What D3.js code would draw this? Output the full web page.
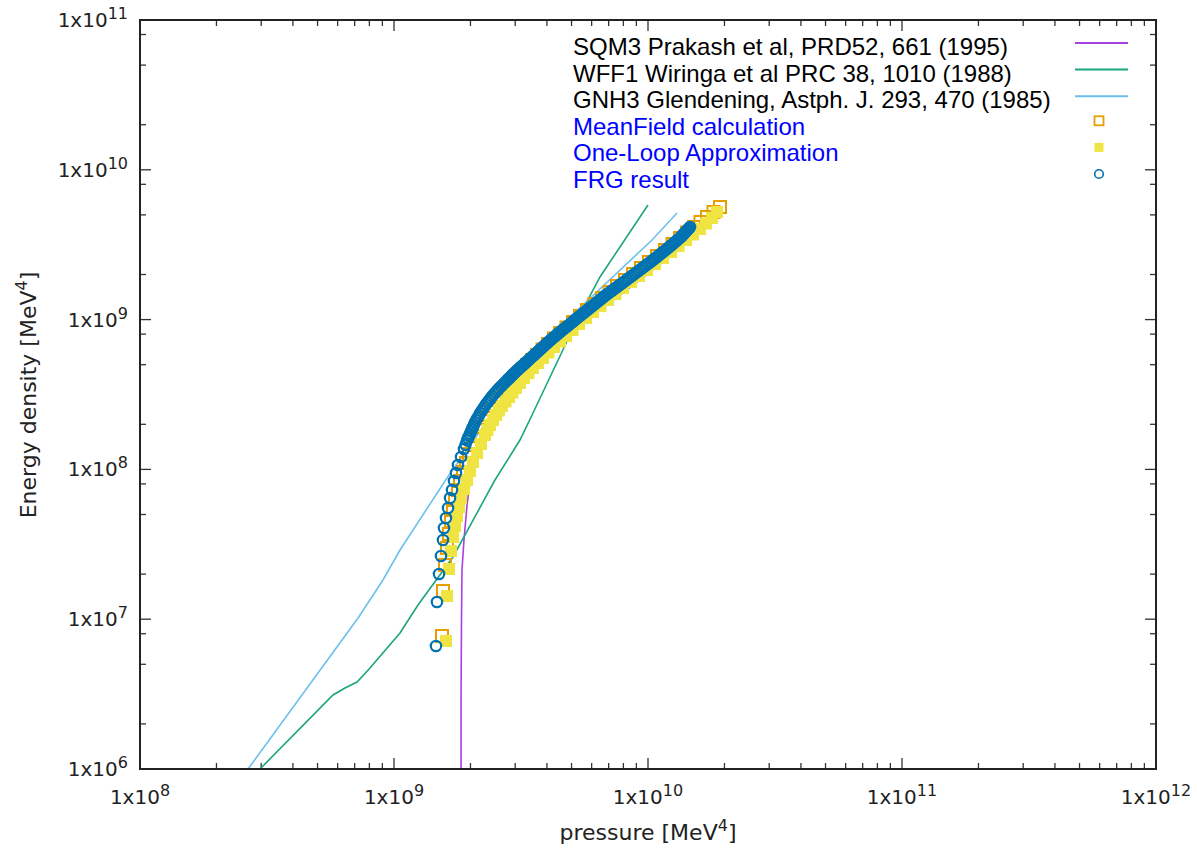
<!DOCTYPE html>
<meta charset="utf-8">
<script src="https://cdn.jsdelivr.net/npm/d3@7"></script>
<style>
body { margin: 0; background: #fff; }
text.tick { font: 20px "DejaVu Sans", sans-serif; fill: #222; }
text.axlabel { font: 22px "DejaVu Sans", sans-serif; fill: #222; }
text.leg { font: 24px "Liberation Sans", Arial, sans-serif; }
path.curve { fill: none; stroke-width: 1.6px; }
</style>
<body>
<script>

// curves: [pressure, energy density] in MeV^4
var sqm3 = [[1.836e9,1e6],[1.836e9,2.888e6],[1.844e9,1.0e7],[1.852e9,2.131e7],[1.886e9,3.379e7],
  [1.939e9,5.785e7],[1.992e9,8.24e7],[2.084e9,1.156e8],[2.241e9,1.571e8],[2.409e9,2.04e8],
  [2.545e9,2.491e8],[2.915e9,3.389e8],[3.591e9,4.752e8],[4.713e9,7.31e8],[6.471e9,1.159e9],
  [1.018e10,2.078e9],[1.602e10,3.845e9]];

var wff1 = [[2.968e8,1e6],[5.752e8,3.119e6],[6.414e8,3.473e6],[7.153e8,3.808e6],[8.045e8,4.724e6],
  [1.056e9,8.091e6],[1.243e9,1.244e7],[1.707e9,2.602e7],[2.498e9,8.497e7],[3.133e9,1.571e8],
  [3.526e9,2.38e8],[5.253e9,0.99e9],[6.471e9,1.925e9],[1.0e10,5.821e9]];

var gnh3 = [[2.662e8,1e6],[7.218e8,1.019e7],[9.05e8,1.827e7],[1.056e9,2.897e7],[1.617e9,8.761e7],
  [2.785e9,3.236e8],[4.798e9,0.994e9],[1.037e10,3.399e9],[1.301e10,5.147e9]];

var meanField = [[1.545e9,7.725e6],[1.559e9,1.543e7],[1.588e9,2.301e7],[1.617e9,2.988e7],[1.646e9,3.705e7],
  [1.677e9,4.524e7],[1.707e9,5.358e7],[1.739e9,6.248e7],[1.786e9,7.288e7],[1.819e9,8.368e7],
  [1.869e9,9.608e7],[1.92e9,1.103e8],[1.974e9,1.267e8],[2.047e9,1.455e8],[2.123e9,1.671e8],
  [2.2e9,1.919e8],[2.302e9,2.203e8],[2.409e9,2.53e8],[2.545e9,2.906e8],[2.615e9,3.114e8],
  [2.686e9,3.337e8],[2.773e9,3.549e8],[2.862e9,3.775e8],[2.968e9,4.044e8],[3.077e9,4.334e8],
  [3.205e9,4.643e8],[3.339e9,4.977e8],[3.494e9,5.374e8],[3.656e9,5.803e8],[3.843e9,6.316e8],
  [4.04e9,6.873e8],[4.265e9,7.479e8],[4.504e9,8.14e8],[4.776e9,8.857e8],[5.067e9,9.638e8],
  [5.398e9,1.057e9],[5.752e9,1.159e9],[6.159e9,1.271e9],[6.592e9,1.394e9],[7.055e9,1.529e9],
  [7.551e9,1.676e9],[8.119e9,1.838e9],[8.729e9,2.016e9],[9.384e9,2.21e9],[1.009e10,2.424e9],
  [1.085e10,2.658e9],[1.166e10,2.915e9],[1.249e10,3.196e9],[1.337e10,3.505e9],[1.424e10,3.815e9],
  [1.518e10,4.151e9],[1.609e10,4.483e9],[1.707e10,4.841e9],[1.811e10,5.227e9],[1.921e10,5.645e9]];

var oneLoop = [[1.602e9,7.153e6],[1.617e9,1.428e7],[1.646e9,2.163e7],[1.677e9,2.853e7],[1.707e9,3.538e7],
  [1.739e9,4.19e7],[1.77e9,4.886e7],[1.803e9,5.61e7],[1.836e9,6.443e7],[1.886e9,7.401e7],
  [1.939e9,8.497e7],[1.992e9,9.757e7],[2.047e9,1.12e8],[2.123e9,1.287e8],[2.2e9,1.478e8],
  [2.282e9,1.697e8],[2.334e9,1.832e8],[2.388e9,1.979e8],[2.454e9,2.137e8],[2.521e9,2.307e8],
  [2.591e9,2.473e8],[2.662e9,2.65e8],[2.748e9,2.84e8],[2.836e9,3.043e8],[2.928e9,3.261e8],
  [3.022e9,3.494e8],[3.133e9,3.775e8],[3.25e9,4.075e8],[3.385e9,4.401e8],[3.526e9,4.752e8],
  [3.689e9,5.133e8],[3.861e9,5.542e8],[4.058e9,6.03e8],[4.265e9,6.563e8],[4.504e9,7.143e8],
  [4.756e9,7.771e8],[5.045e9,8.52e8],[5.35e9,9.346e8],[5.701e9,1.025e9],[6.074e9,1.124e9],
  [6.501e9,1.232e9],[6.959e9,1.352e9],[7.447e9,1.482e9],[7.97e9,1.625e9],[8.573e9,1.782e9],
  [9.218e9,1.954e9],[9.91e9,2.143e9],[1.066e10,2.35e9],[1.146e10,2.577e9],[1.232e10,2.827e9],
  [1.319e10,3.099e9],[1.412e10,3.399e9],[1.504e10,3.7e9],[1.602e10,4.026e9],[1.692e10,4.38e9],
  [1.786e10,4.767e9],[1.869e10,5.227e9]];

var frg = [[1.463e9,6.62e6],[1.476e9,1.303e7],[1.504e9,2.004e7],[1.531e9,2.642e7],[1.559e9,3.379e7],
  [1.573e9,4.062e7],[1.602e9,4.737e7],[1.632e9,5.526e7],[1.662e9,6.443e7],[1.692e9,7.288e7],
  [1.723e9,8.368e7],[1.754e9,9.462e7],[1.786e9,1.07e8],[1.836e9,1.21e8],[1.886e9,1.368e8],
  [1.912e9,1.462e8],[1.939e9,1.562e8],[1.956e9,1.617e8],[1.974e9,1.674e8],[1.992e9,1.733e8],
  [2.01e9,1.794e8],[2.028e9,1.857e8],[2.047e9,1.922e8],[2.065e9,1.99e8],[2.084e9,2.06e8],
  [2.108e9,2.133e8],[2.132e9,2.207e8],[2.157e9,2.285e8],[2.181e9,2.365e8],[2.211e9,2.449e8],
  [2.241e9,2.534e8],[2.271e9,2.624e8],[2.302e9,2.716e8],[2.334e9,2.801e8],[2.366e9,2.888e8],
  [2.399e9,2.979e8],[2.432e9,3.072e8],[2.471e9,3.167e8],[2.51e9,3.266e8],[2.55e9,3.368e8],
  [2.591e9,3.473e8],[2.638e9,3.582e8],[2.686e9,3.694e8],[2.735e9,3.808e8],[2.785e9,3.927e8],
  [2.814e9,3.996e8],[2.843e9,4.066e8],[2.872e9,4.137e8],[2.901e9,4.209e8],[2.931e9,4.282e8],
  [2.961e9,4.357e8],[2.991e9,4.433e8],[3.022e9,4.511e8],[3.056e9,4.589e8],[3.092e9,4.669e8],
  [3.126e9,4.75e8],[3.162e9,4.834e8],[3.199e9,4.917e8],[3.235e9,5.005e8],[3.273e9,5.091e8],
  [3.308e9,5.18e8],[3.351e9,5.28e8],[3.393e9,5.383e8],[3.436e9,5.487e8],[3.478e9,5.593e8],
  [3.522e9,5.701e8],[3.566e9,5.812e8],[3.611e9,5.924e8],[3.656e9,6.039e8],[3.706e9,6.169e8],
  [3.757e9,6.301e8],[3.808e9,6.435e8],[3.861e9,6.573e8],[3.913e9,6.714e8],[3.967e9,6.857e8],
  [4.021e9,7.004e8],[4.077e9,7.153e8],[4.136e9,7.307e8],[4.198e9,7.463e8],[4.259e9,7.622e8],
  [4.323e9,7.784e8],[4.387e9,7.951e8],[4.453e9,8.121e8],[4.519e9,8.294e8],[4.586e9,8.472e8],
  [4.66e9,8.652e8],[4.734e9,8.837e8],[4.811e9,9.026e8],[4.887e9,9.218e8],[4.966e9,9.43e8],
  [5.044e9,9.645e8],[5.126e9,9.866e8],[5.206e9,1.009e9],[5.297e9,1.033e9],[5.386e9,1.057e9],
  [5.481e9,1.082e9],[5.573e9,1.107e9],[5.67e9,1.133e9],[5.767e9,1.159e9],[5.866e9,1.186e9],
  [5.965e9,1.214e9],[6.068e9,1.242e9],[6.172e9,1.271e9],[6.277e9,1.301e9],[6.385e9,1.331e9],
  [6.494e9,1.362e9],[6.604e9,1.394e9],[6.719e9,1.426e9],[6.833e9,1.459e9],[6.95e9,1.491e9],
  [7.07e9,1.522e9],[7.191e9,1.555e9],[7.314e9,1.588e9],[7.439e9,1.622e9],[7.568e9,1.657e9],
  [7.696e9,1.692e9],[7.83e9,1.729e9],[7.975e9,1.769e9],[8.119e9,1.81e9],[8.269e9,1.852e9],
  [8.418e9,1.896e9],[8.574e9,1.94e9],[8.729e9,1.986e9],[8.89e9,2.031e9],[9.05e9,2.078e9],
  [9.218e9,2.127e9],[9.386e9,2.177e9],[9.557e9,2.228e9],[9.732e9,2.279e9],[9.91e9,2.333e9],
  [1.009e10,2.387e9],[1.028e10,2.443e9],[1.046e10,2.5e9],[1.064e10,2.559e9],[1.083e10,2.618e9],
  [1.101e10,2.679e9],[1.12e10,2.742e9],[1.139e10,2.805e9],[1.159e10,2.871e9],[1.178e10,2.938e9],
  [1.199e10,3.006e9],[1.216e10,3.071e9],[1.235e10,3.137e9],[1.253e10,3.204e9],[1.272e10,3.272e9],
  [1.29e10,3.342e9],[1.309e10,3.413e9],[1.329e10,3.486e9],[1.349e10,3.56e9],[1.362e10,3.63e9],
  [1.376e10,3.7e9],[1.39e10,3.771e9],[1.405e10,3.845e9],[1.419e10,3.919e9],[1.434e10,3.995e9],
  [1.449e10,4.073e9],[1.464e10,4.151e9]];

var xMajor = [1e8, 1e9, 1e10, 1e11, 1e12];
var yMajor = [1e6, 1e7, 1e8, 1e9, 1e10, 1e11];
var xMinorMult = [2, 3, 4, 5, 6, 7, 8, 9];
var yMinorMult = [2, 5, 8];

var legendText = ["SQM3 Prakash et al, PRD52, 661 (1995)",
                  "WFF1 Wiringa et al PRC 38, 1010 (1988)",
                  "GNH3 Glendening, Astph. J. 293, 470 (1985)",
                  "MeanField calculation",
                  "One-Loop Approximation",
                  "FRG result"];

var width = 1197, height = 848;
var pLeft = 140, pRight = 1156, pTop = 20, pBottom = 769;

var x = d3.scaleLog().domain([1e8, 1e12]).range([pLeft, pRight]);
var y = d3.scaleLog().domain([1e6, 1e11]).range([pBottom, pTop]);

var svg = d3.select("body").append("svg")
    .attr("width", width)
    .attr("height", height);

svg.append("clipPath").attr("id", "plot")
  .append("rect").attr("x", pLeft).attr("y", pTop)
  .attr("width", pRight - pLeft).attr("height", pBottom - pTop);

// ticks (inward, mirrored on all four sides)
var tk = svg.append("g").attr("stroke", "#333").attr("stroke-width", 1.3);
var xMinor = [], yMinor = [];
xMajor.slice(0, -1).forEach(function(d) { xMinorMult.forEach(function(m) { xMinor.push(d * m); }); });
yMajor.slice(0, -1).forEach(function(d) { yMinorMult.forEach(function(m) { yMinor.push(d * m); }); });

function xticks(vals, len) {
  vals.forEach(function(v) {
    tk.append("line").attr("x1", x(v)).attr("x2", x(v)).attr("y1", pBottom).attr("y2", pBottom - len);
    tk.append("line").attr("x1", x(v)).attr("x2", x(v)).attr("y1", pTop).attr("y2", pTop + len);
  });
}
function yticks(vals, len) {
  vals.forEach(function(v) {
    tk.append("line").attr("y1", y(v)).attr("y2", y(v)).attr("x1", pLeft).attr("x2", pLeft + len);
    tk.append("line").attr("y1", y(v)).attr("y2", y(v)).attr("x1", pRight).attr("x2", pRight - len);
  });
}
xticks(xMajor, 11); xticks(xMinor, 6);
yticks(yMajor, 11); yticks(yMinor, 6);

// tick labels like 1x10^9
function powLabel(sel, v) {
  var e = Math.round(Math.log10(v));
  sel.append("tspan").text("1x10");
  sel.append("tspan").attr("dy", -8).attr("font-size", 16).text(e);
}
xMajor.forEach(function(v) {
  var t = svg.append("text").attr("class", "tick")
    .attr("x", x(v)).attr("y", 804).attr("text-anchor", "middle");
  powLabel(t, v);
});
yMajor.forEach(function(v) {
  var t = svg.append("text").attr("class", "tick")
    .attr("x", 128).attr("y", y(v) + 7).attr("text-anchor", "end");
  powLabel(t, v);
});

// axis titles
var xl = svg.append("text").attr("class", "axlabel")
  .attr("x", 648).attr("y", 840).attr("text-anchor", "middle");
xl.append("tspan").text("pressure [MeV");
xl.append("tspan").attr("dy", -9).attr("font-size", 16).text("4");
xl.append("tspan").attr("dy", 9).text("]");

var yl = svg.append("text").attr("class", "axlabel")
  .attr("transform", "translate(36,395) rotate(-90)").attr("text-anchor", "middle");
yl.append("tspan").text("Energy density [MeV");
yl.append("tspan").attr("dy", -9).attr("font-size", 16).text("4");
yl.append("tspan").attr("dy", 9).text("]");

// curves
var line = d3.line().x(function(d) { return x(d[0]); }).y(function(d) { return y(d[1]); });
var plot = svg.append("g").attr("clip-path", "url(#plot)");

var curves = [
  {data: sqm3, color: "#a640e0"},
  {data: wff1, color: "#1aa57e"},
  {data: gnh3, color: "#6dc0ee"}
];
curves.forEach(function(c) {
  plot.append("path").attr("class", "curve").attr("d", line(c.data)).attr("stroke", c.color);
});

// point series
plot.selectAll("rect.mf").data(meanField).enter().append("rect")
  .attr("x", function(d) { return x(d[0]) - 6; })
  .attr("y", function(d) { return y(d[1]) - 6; })
  .attr("width", 12).attr("height", 12)
  .attr("fill", "none").attr("stroke", "#e69f00").attr("stroke-width", 2);

plot.selectAll("rect.ol").data(oneLoop).enter().append("rect")
  .attr("x", function(d) { return x(d[0]) - 6; })
  .attr("y", function(d) { return y(d[1]) - 6; })
  .attr("width", 12).attr("height", 12)
  .attr("fill", "#f0e442");

plot.selectAll("circle.frg").data(frg).enter().append("circle")
  .attr("cx", function(d) { return x(d[0]); })
  .attr("cy", function(d) { return y(d[1]); })
  .attr("r", 5.2)
  .attr("fill", "none").attr("stroke", "#0072b2").attr("stroke-width", 2.2);

// frame
svg.append("rect").attr("x", pLeft).attr("y", pTop)
  .attr("width", pRight - pLeft).attr("height", pBottom - pTop)
  .attr("fill", "none").attr("stroke", "#222").attr("stroke-width", 2);

// legend
var leg = svg.append("g");
legendText.forEach(function(s, i) {
  var by = 55 + 26.6 * i;
  leg.append("text").attr("class", "leg")
    .attr("x", 573).attr("y", by)
    .attr("fill", i < 3 ? "#000" : "#0000ff")
    .text(s);
  if (i < 3) {
    leg.append("line").attr("x1", 1075).attr("x2", 1128)
      .attr("y1", by - 12).attr("y2", by - 12)
      .attr("stroke", curves[i].color).attr("stroke-width", 2);
  }
});
var my = [55 + 26.6 * 3 - 14, 55 + 26.6 * 4 - 14, 55 + 26.6 * 5 - 14];
leg.append("rect").attr("x", 1094.5).attr("y", my[0] - 4.5).attr("width", 9).attr("height", 9)
  .attr("fill", "none").attr("stroke", "#e69f00").attr("stroke-width", 1.8);
leg.append("rect").attr("x", 1094.5).attr("y", my[1] - 4.5).attr("width", 9).attr("height", 9)
  .attr("fill", "#f0e442");
leg.append("circle").attr("cx", 1099).attr("cy", my[2]).attr("r", 4.3)
  .attr("fill", "none").attr("stroke", "#0072b2").attr("stroke-width", 1.6);

</script>
</body>
